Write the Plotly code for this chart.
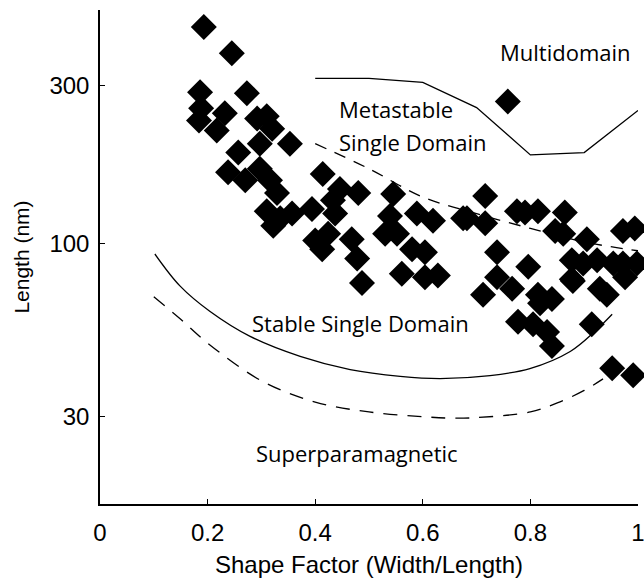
import math
import plotly.graph_objects as go

# Measured particles: shape factor (width/length) and length (nm)
shape_factor = [0.193, 0.245, 0.186, 0.273, 0.188, 0.184, 0.232, 0.217, 0.292, 0.310,
                0.320, 0.297, 0.353, 0.257, 0.238, 0.270, 0.297, 0.316, 0.329, 0.310,
                0.335, 0.357, 0.322, 0.394, 0.414, 0.446, 0.480, 0.433, 0.437, 0.400,
                0.413, 0.424, 0.468, 0.478, 0.487, 0.545, 0.539, 0.530, 0.552, 0.589,
                0.619, 0.580, 0.604, 0.561, 0.604, 0.628, 0.675, 0.716, 0.682, 0.716,
                0.775, 0.790, 0.814, 0.864, 0.846, 0.861, 0.905, 0.972, 0.994, 0.738,
                0.796, 0.738, 0.766, 0.712, 0.814, 0.840, 0.877, 0.877, 0.898, 0.924,
                0.954, 0.972, 0.998, 0.879, 0.929, 0.942, 0.976, 0.777, 0.805, 0.831,
                0.840, 0.914, 0.952, 0.991, 0.758, 0.818]
length_nm = [450, 375, 286, 284, 256, 235, 247, 219, 238, 242,
             222, 200, 200, 188, 164, 155, 168, 155, 142, 125,
             119, 123, 113, 127, 162, 146, 142, 135, 123, 102,
             96, 107, 103, 90, 76, 141, 121, 107, 107, 123,
             117, 96, 94, 81, 79, 80, 119, 139, 119, 115,
             125, 124, 125, 124, 109, 107, 103, 109, 111, 94,
             85, 79, 73, 70, 70, 68, 89, 78, 87, 89,
             87, 87, 87, 77, 73, 70, 79, 58, 57, 54,
             49, 57, 42, 40, 268, 66]

# Boundary: multidomain / metastable single domain (solid)
md_x = [0.4, 0.5, 0.6, 0.7, 0.8, 0.9, 1.0]
md_y = [315, 315, 306, 257, 185, 188, 252]

# Boundary: metastable / stable single domain (dashed)
ms_x = [0.4, 0.5, 0.6, 0.7, 0.8, 0.9, 1.0]
ms_y = [200, 168, 138, 123, 111, 101, 95]

# Boundary: stable single domain lower (solid)
ssd_x = [0.102, 0.149, 0.204, 0.279, 0.372, 0.465, 0.558, 0.632, 0.725, 0.799, 0.874, 0.920, 0.952]
ssd_y = [92.9, 74.3, 62.4, 52.4, 45.6, 41.6, 39.7, 39.1, 39.9, 41.9, 47.2, 54.3, 61.1]

# Boundary: superparamagnetic (dashed)
sp_x = [0.10, 0.15, 0.20, 0.30, 0.40, 0.50, 0.60, 0.65, 0.70, 0.80, 0.85, 0.90, 0.935]
sp_y = [69, 59, 50, 38.5, 33.2, 31, 30, 29.7, 29.8, 31, 33, 36, 39]

x_ticks = [0, 0.2, 0.4, 0.6, 0.8, 1]
x_tick_text = ["0", "0.2", "0.4", "0.6", "0.8", "1"]
y_ticks = [30, 100, 300]
y_tick_text = ["30", "100", "300"]

region_labels = ["Multidomain", "Metastable", "Single Domain", "Stable Single Domain", "Superparamagnetic"]
region_x = [0.866, 0.441, 0.441, 0.485, 0.478]
region_y = [378, 254, 203, 57.5, 23.3]
region_anchor = ["center", "left", "left", "center", "center"]

fig = go.Figure()
line_style = dict(color="black", width=1.3)
fig.add_trace(go.Scatter(x=md_x, y=md_y, mode="lines", line=line_style, hoverinfo="skip"))
fig.add_trace(go.Scatter(x=ms_x, y=ms_y, mode="lines", line_shape="spline",
                         line=dict(color="black", width=1.3, dash="12px,9px"), hoverinfo="skip"))
fig.add_trace(go.Scatter(x=ssd_x, y=ssd_y, mode="lines", line_shape="spline", line=line_style, hoverinfo="skip"))
fig.add_trace(go.Scatter(x=sp_x, y=sp_y, mode="lines", line_shape="spline",
                         line=dict(color="black", width=1.3, dash="14px,10px"), hoverinfo="skip"))
fig.add_trace(go.Scatter(x=shape_factor, y=length_nm, mode="markers", cliponaxis=False,
                         marker=dict(symbol="diamond", size=20, color="black", line=dict(width=0))))

for t, x, y, a in zip(region_labels, region_x, region_y, region_anchor):
    fig.add_annotation(x=x, y=math.log10(y), yref="y", xref="x", text=t, showarrow=False, xanchor=a,
                       font=dict(family="Open Sans", size=22, color="black"))

axis_font = dict(family="Liberation Sans, Arial", size=24, color="black")
fig.update_xaxes(range=[0, 1], tickvals=x_ticks, ticktext=x_tick_text, showline=True,
                 linecolor="black", linewidth=1.5, ticks="inside", ticklen=5, tickcolor="black",
                 tickwidth=1.3, showgrid=False, zeroline=False, tickfont=axis_font,
                 ticklabeloverflow="allow", automargin=False, ticklabelstandoff=6,
                 title=dict(text="Shape Factor (Width/Length)", font=axis_font, standoff=12))
fig.update_yaxes(type="log", range=[1.2135, 2.7044], tickvals=y_ticks, ticktext=y_tick_text,
                 showline=True, linecolor="black", linewidth=1.5, ticks="inside", ticklen=5,
                 tickcolor="black", tickwidth=1.3, showgrid=False, zeroline=False, tickfont=axis_font,
                 ticklabelstandoff=4, automargin=False,
                 title=dict(text="\u00a0" * 5 + "Length (nm)",
                            font=dict(family="Liberation Sans Narrow, Liberation Sans, Arial", size=21,
                                      color="black"),
                            standoff=14))
fig.update_layout(width=644, height=578, margin=dict(l=100, r=6, t=10, b=74),
                  plot_bgcolor="white", paper_bgcolor="white", showlegend=False)
fig.write_html("out.html")
